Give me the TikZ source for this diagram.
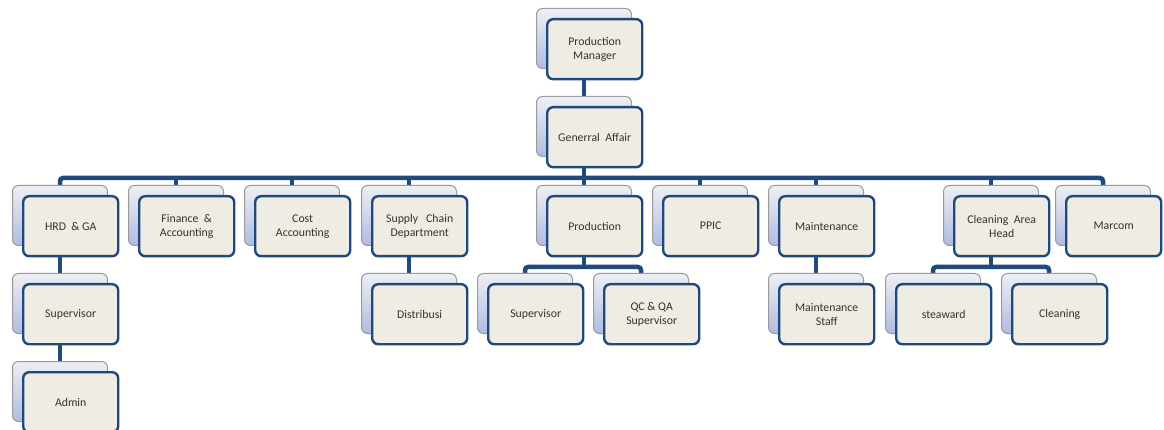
\documentclass[tikz,border=0pt]{standalone}
\usepackage{fontspec}
\setmainfont{Carlito}
\usetikzlibrary{backgrounds}
\definecolor{frontfill}{HTML}{EEECE3}
\definecolor{frontline}{HTML}{1F497D}
\definecolor{backline}{HTML}{9A9A9A}
\definecolor{backtop}{HTML}{EEEFF3}
\definecolor{backbot}{HTML}{AEBCE2}
\definecolor{conn}{HTML}{1F4A7A}
\tikzset{
  frontbox/.style={draw=frontline, line width=2.4pt, fill=frontfill, rounded corners=6pt,
    minimum width=95pt, minimum height=60pt, inner sep=2pt, align=center, anchor=north west,
    font=\fontsize{11.8}{14}\selectfont, text=black!80},
  backbox/.style={draw=backline, line width=1pt, top color=backtop, bottom color=backbot,
    rounded corners=6pt, minimum width=95pt, minimum height=60pt, anchor=north west},
  connector/.style={draw=conn, line width=4.5pt, rounded corners=3pt}
}
\newcommand{\orgbox}[4]{%
  \node[backbox] (#1b) at (#2-10,#3-10) {};
  \node[frontbox] (#1) at (#2,#3) {#4};
}
\begin{document}
\begin{tikzpicture}[x=1pt,y=-1pt]
\useasboundingbox (0,0) rectangle (1164,430);
\orgbox{pm}{546}{18}{Production\\Manager}
\orgbox{ga}{546}{106}{Generral\ \ Affair}
\orgbox{hrd}{22}{195}{HRD\ \ \& GA}
\orgbox{fin}{138}{195}{Finance\ \ \&\\Accounting}
\orgbox{cost}{254}{195}{Cost\\Accounting}
\orgbox{scd}{371}{195}{Supply\ \ \ Chain\\Department}
\orgbox{prod}{546}{195}{Production}
\orgbox{ppic}{662}{195}{PPIC}
\orgbox{mnt}{778}{195}{Maintenance}
\orgbox{cah}{953}{195}{Cleaning\ \ Area\\Head}
\orgbox{mar}{1065}{195}{Marcom}
\orgbox{hsup}{22}{283}{Supervisor}
\orgbox{adm}{22}{371}{Admin}
\orgbox{dist}{371}{283}{Distribusi}
\orgbox{psup}{487}{283}{Supervisor}
\orgbox{qc}{603}{283}{QC\ \& QA\\Supervisor}
\orgbox{mst}{778}{283}{Maintenance\\Staff}
\orgbox{stw}{895}{283}{steaward}
\orgbox{cln}{1011}{283}{Cleaning}
\coordinate (bus) at (0,178);
\coordinate (pbus) at (0,267);
\coordinate (cbus) at (0,267);
\begin{scope}[on background layer]
\draw[connector] (pmb.south) -- (gab.north);
\draw[connector] (gab.south) -- (gab.south|-bus);
\draw[connector] (hrdb.north) |- (marb.north|-bus) -- (marb.north);
\foreach \n in {fin,cost,scd,prod,ppic,mnt,cah}{
  \draw[connector] (\n b.north) -- (\n b.north|-bus);
}
\draw[connector] (hrdb.south) -- (hsupb.north);
\draw[connector] (hsupb.south) -- (admb.north);
\draw[connector] (scdb.south) -- (distb.north);
\draw[connector] (mntb.south) -- (mstb.north);
\draw[connector] (prodb.south) -- (prodb.south|-pbus);
\draw[connector] (psupb.north) |- (qcb.north|-pbus) -- (qcb.north);
\draw[connector] (cahb.south) -- (cahb.south|-cbus);
\draw[connector] (stwb.north) |- (clnb.north|-cbus) -- (clnb.north);
\end{scope}
\end{tikzpicture}
\end{document}
